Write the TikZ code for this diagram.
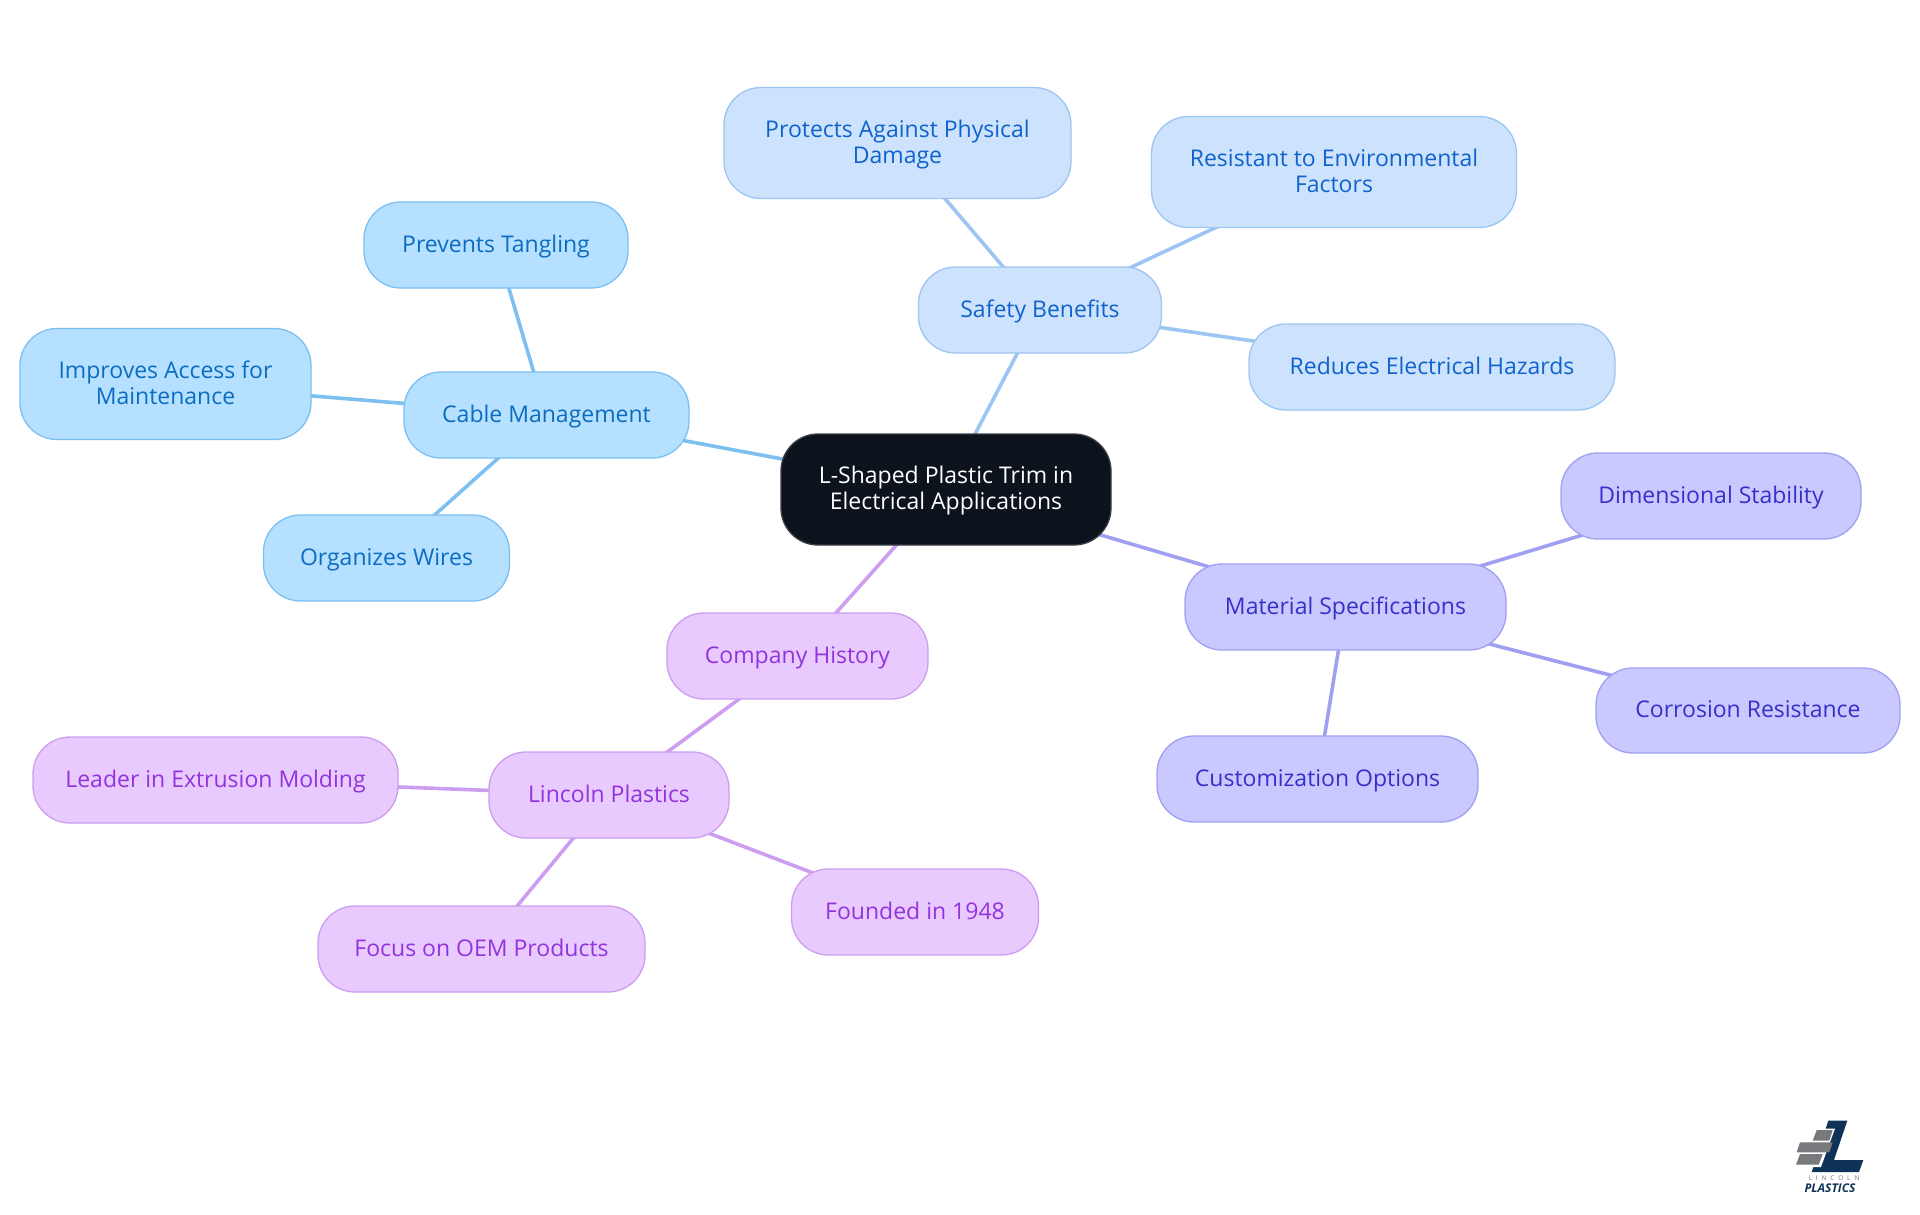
\documentclass[tikz,border=0pt]{standalone}
\usepackage{fontspec}
\setmainfont{Open Sans}
\usetikzlibrary{backgrounds}
\definecolor{rootfill}{HTML}{0C131C}
\definecolor{rootline}{HTML}{3A3F46}
\definecolor{cablefill}{HTML}{B5E0FF}
\definecolor{cableline}{HTML}{7DC0F0}
\definecolor{cabletext}{HTML}{0B6CC0}
\definecolor{safefill}{HTML}{CDE3FD}
\definecolor{safeline}{HTML}{9CC5F3}
\definecolor{safetext}{HTML}{1062CC}
\definecolor{matfill}{HTML}{C9C9FF}
\definecolor{matline}{HTML}{A0A0F2}
\definecolor{mattext}{HTML}{3730C8}
\definecolor{histfill}{HTML}{E8CAFE}
\definecolor{histline}{HTML}{CD9DF0}
\definecolor{histtext}{HTML}{9333DD}
\definecolor{logonavy}{HTML}{0F3358}
\definecolor{logogrey}{HTML}{77797C}
\newcommand{\tallline}{\rule{0pt}{22.3pt}}
\tikzset{
  pill/.style={draw,rounded corners=37pt,line width=1.3pt,inner sep=0pt,outer sep=0pt,
    align=center,font=\fontsize{23}{25.7}\selectfont},
  rootnode/.style={pill,fill=rootfill,draw=rootline,text=white},
  cablenode/.style={pill,fill=cablefill,draw=cableline,text=cabletext},
  safenode/.style={pill,fill=safefill,draw=safeline,text=safetext},
  matnode/.style={pill,fill=matfill,draw=matline,text=mattext},
  histnode/.style={pill,fill=histfill,draw=histline,text=histtext},
  box/.style 2 args={minimum width=#1pt,minimum height=#2pt},
  branch/.style={line width=3.6pt,draw=#1}
}
\begin{document}
\begin{tikzpicture}[x=1pt,y=-1pt]
  \useasboundingbox (0,0) rectangle (1920,1215);
  \draw
    (946,489.5) node[rootnode,box={330}{111}] (root){\tallline L-Shaped Plastic Trim in\\Electrical Applications\strut}
    (546.5,415) node[cablenode,box={285}{86}] (cable){\tallline Cable Management\strut}
    (496,245) node[cablenode,box={264}{86}] (tangling){\tallline Prevents Tangling\strut}
    (165.5,384) node[cablenode,box={291}{111}] (access){\tallline Improves Access for\\Maintenance\strut}
    (386.5,558) node[cablenode,box={246}{86}] (wires){\tallline Organizes Wires\strut}
    (1040,310) node[safenode,box={243}{86}] (safety){\tallline Safety Benefits\strut}
    (897.5,143) node[safenode,box={347}{111}] (physical){\tallline Protects Against Physical\\Damage\strut}
    (1334,172) node[safenode,box={365}{111}] (factors){\tallline Resistant to Environmental\\Factors\strut}
    (1432,367) node[safenode,box={366}{86}] (hazards){\tallline Reduces Electrical Hazards\strut}
    (1345.5,607) node[matnode,box={321}{86}] (material){\tallline Material Specifications\strut}
    (1711,496) node[matnode,box={300}{86}] (stability){\tallline Dimensional Stability\strut}
    (1748,710.5) node[matnode,box={304}{85}] (corrosion){\tallline Corrosion Resistance\strut}
    (1317.5,779) node[matnode,box={321}{86}] (custom){\tallline Customization Options\strut}
    (797.5,656) node[histnode,box={261}{86}] (history){\tallline Company History\strut}
    (609,795) node[histnode,box={240}{86}] (lincoln){\tallline Lincoln Plastics\strut}
    (215.5,780) node[histnode,box={365}{86}] (leader){\tallline Leader in Extrusion Molding\strut}
    (915,912) node[histnode,box={247}{86}] (founded){\tallline Founded in 1948\strut}
    (481.5,949) node[histnode,box={327}{86}] (oem){\tallline Focus on OEM Products\strut};
  \begin{scope}[on background layer]
    \draw[branch=cableline] (root.center) to (cable.center);
    \draw[branch=cableline] (cable.center) to (tangling.center);
    \draw[branch=cableline] (cable.center) to (access.center);
    \draw[branch=cableline] (cable.center) to (wires.center);
    \draw[branch=safeline] (root.center) to (safety.center);
    \draw[branch=safeline] (safety.center) to (physical.center);
    \draw[branch=safeline] (safety.center) to (factors.center);
    \draw[branch=safeline] (safety.center) to (hazards.center);
    \draw[branch=matline] (root.center) to (material.center);
    \draw[branch=matline] (material.center) to (stability.center);
    \draw[branch=matline] (material.center) to (corrosion.center);
    \draw[branch=matline] (material.center) to (custom.center);
    \draw[branch=histline] (root.center) to (history.center);
    \draw[branch=histline] (history.center) to (lincoln.center);
    \draw[branch=histline] (lincoln.center) to (leader.center);
    \draw[branch=histline] (lincoln.center) to (founded.center);
    \draw[branch=histline] (lincoln.center) to (oem.center);
  \end{scope}
  % logo
  \fill[logonavy] (1828.3,1120.7) -- (1847.3,1120.7) -- (1834,1160) -- (1863.3,1160) -- (1859,1172) -- (1811.7,1172) -- cycle;
  \fill[white] (1811,1128.5) -- (1835,1128.5) -- (1821,1167) -- (1794,1167) -- (1798,1140) -- cycle;
  \fill[logogrey] (1816.7,1130) -- (1832.7,1130) -- (1829.3,1140.7) -- (1812.7,1140.7) -- cycle;
  \fill[logogrey] (1800,1142.3) -- (1832.7,1142.3) -- (1829.3,1152.3) -- (1796.7,1152.3) -- cycle;
  \fill[logogrey] (1800,1154) -- (1822.7,1154) -- (1818.7,1164.7) -- (1796,1164.7) -- cycle;
  \node[inner sep=0pt,text=logogrey,font=\fontsize{6.5}{7}\selectfont\addfontfeature{LetterSpace=60}] (logotop) at (1834,1178.5) {LINCOLN};
  \node[inner sep=0pt,text=logonavy,font=\fontsize{12}{13}\selectfont\bfseries\itshape] (logoname) at (1830,1188) {PLASTICS};
\end{tikzpicture}
\end{document}
